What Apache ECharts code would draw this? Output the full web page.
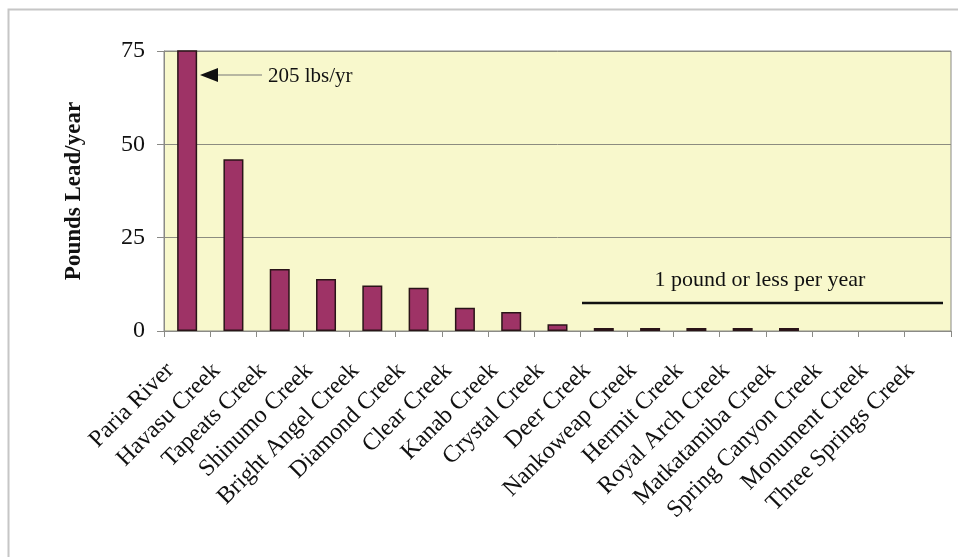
<!DOCTYPE html>
<html>
<head>
<meta charset="utf-8">
<script src="https://cdn.jsdelivr.net/npm/echarts@6/dist/echarts.min.js"></script>
<style>
  html, body { margin: 0; padding: 0; background: #fff; }
  #chart { width: 958px; height: 557px; }
</style>
</head>
<body>
<div id="chart"></div>
<script>
// creeks, left to right
const categories = [
  'Paria River', 'Havasu Creek', 'Tapeats Creek', 'Shinumo Creek',
  'Bright Angel Creek', 'Diamond Creek', 'Clear Creek', 'Kanab Creek',
  'Crystal Creek', 'Deer Creek', 'Nankoweap Creek', 'Hermit Creek',
  'Royal Arch Creek', 'Matkatamiba Creek', 'Spring Canyon Creek',
  'Monument Creek', 'Three Springs Creek'
]
// pounds of lead per year (Paria is off the scale at 205)
const leadValues = [205, 46, 16.6, 13.9, 12.2, 11.6, 6.2, 5.1, 1.8, 0.8, 0.8, 0.8, 0.8, 0.8, 0, 0, 0]
const yTicks = [0, 25, 50, 75]

const serif = 'Liberation Serif, Times New Roman, serif'
const chart = echarts.init(document.getElementById('chart'))

const option = {
  backgroundColor: '#ffffff',
  animation: false,
  grid: {
    left: 164,
    right: 7,
    top: 51,
    bottom: 226,
    show: true,
    backgroundColor: '#F8F8CC',
    borderColor: '#8a8a86',
    borderWidth: 1
  },
  xAxis: {
    type: 'category',
    data: categories,
    boundaryGap: true,
    axisLine: { lineStyle: { color: '#8a8a86', width: 1 } },
    axisTick: { show: true, length: 6, interval: 0, lineStyle: { color: '#8a8a86' } },
    axisLabel: {
      interval: 0,
      rotate: 45,
      margin: 19,
      padding: [0, 24, 0, 0],
      color: '#111',
      fontFamily: serif,
      fontSize: 24
    }
  },
  yAxis: {
    type: 'value',
    min: yTicks[0],
    max: yTicks[yTicks.length - 1],
    interval: 25,
    name: 'Pounds Lead/year',
    nameLocation: 'middle',
    nameGap: 78,
    nameTextStyle: {
      color: '#111',
      fontFamily: serif,
      fontWeight: 'bold',
      fontSize: 23
    },
    axisLine: { show: true, lineStyle: { color: '#8a8a86', width: 1 } },
    axisTick: { show: true, length: 7, lineStyle: { color: '#8a8a86' } },
    axisLabel: {
      margin: 19,
      color: '#111',
      fontFamily: serif,
      fontSize: 24
    },
    splitLine: { show: true, lineStyle: { color: '#8c8c80', width: 1 } }
  },
  series: [
    {
      type: 'bar',
      // zero loads have no bar at all in the original
      data: leadValues.map(v => (v === 0 ? '-' : v)),
      barWidth: 20,
      clip: true,
      itemStyle: {
        color: '#9E3366',
        borderColor: '#2a1418',
        borderWidth: 1.5
      }
    }
  ],
  graphic: [
    // outer frame
    {
      type: 'rect',
      z: -1,
      shape: { x: 8.5, y: 9.5, width: 1000, height: 1000 },
      style: { fill: null, stroke: '#c6c6c6', lineWidth: 2 }
    },
    // arrow to the off-scale bar
    {
      type: 'line',
      shape: { x1: 262, y1: 75, x2: 216, y2: 75 },
      style: { stroke: '#777', lineWidth: 1 }
    },
    {
      type: 'polygon',
      shape: { points: [[200, 75], [218, 68], [218, 82]] },
      style: { fill: '#111' }
    },
    {
      type: 'text',
      x: 268,
      y: 76,
      style: { text: '205 lbs/yr', fontFamily: serif, fontSize: 21, fill: '#111', verticalAlign: 'middle' }
    },
    // "1 pound or less" bracket
    {
      type: 'line',
      shape: { x1: 582, y1: 303, x2: 943, y2: 303 },
      style: { stroke: '#111', lineWidth: 2.5 }
    },
    {
      type: 'text',
      x: 760,
      y: 280,
      style: {
        text: '1 pound or less per year',
        fontFamily: serif,
        fontSize: 22,
        fill: '#111',
        align: 'center',
        verticalAlign: 'middle'
      }
    }
  ]
}

chart.setOption(option)
</script>
</body>
</html>
